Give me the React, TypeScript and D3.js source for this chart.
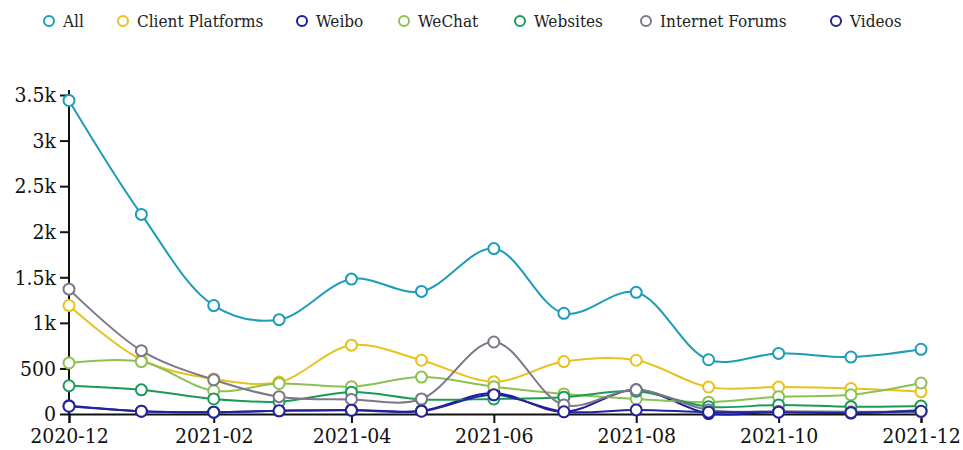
import React, { useRef, useEffect } from 'react';
import * as d3 from 'd3';

const months = [
  '2020-12', '2021-01', '2021-02', '2021-03', '2021-04', '2021-05', '2021-06',
  '2021-07', '2021-08', '2021-09', '2021-10', '2021-11', '2021-12',
];

const seriesNames = ['All', 'Client Platforms', 'Weibo', 'WeChat', 'Websites', 'Internet Forums', 'Videos'];
const seriesColors = ['#1c9db8', '#e8c21c', '#1c1ca0', '#8cc152', '#1a9a56', '#7c7788', '#24249a'];

const allValues = [3440, 2190, 1190, 1035, 1480, 1345, 1815, 1105, 1335, 595, 665, 625, 710];
const clientValues = [1190, 595, 385, 350, 755, 590, 355, 575, 590, 295, 295, 280, 245];
const weiboValues = [90, 30, 20, 35, 45, 35, 230, 25, 265, 5, 25, 10, 40];
const wechatValues = [560, 575, 255, 335, 300, 405, 300, 220, 165, 130, 190, 210, 340];
const websitesValues = [310, 265, 165, 135, 240, 160, 165, 185, 250, 80, 100, 80, 88];
const forumsValues = [1370, 695, 375, 190, 160, 165, 790, 100, 265, 45, 30, 25, 25];
const videosValues = [85, 30, 20, 35, 40, 30, 210, 25, 45, 20, 20, 15, 30];

const xTickLabels = ['2020-12', '2021-02', '2021-04', '2021-06', '2021-08', '2021-10', '2021-12'];

const seriesValues = [allValues, clientValues, weiboValues, wechatValues, websitesValues, forumsValues, videosValues];

const legendX = [49, 123, 302, 404, 520, 646, 836];

const W = 963;
const H = 450;

const App: React.FC = () => {
  const svgRef = useRef<SVGSVGElement>(null);

  useEffect(() => {
    if (!svgRef.current) return;
    const svg = d3.select(svgRef.current);
    svg.selectAll('*').remove();

    const font = "'DejaVu Serif Condensed', 'DejaVu Serif', serif";
    const parse = d3.timeParse('%Y-%m');
    const dates = months.map((m) => parse(m) as Date);

    const x = d3.scaleTime()
      .domain([dates[0], dates[dates.length - 1]])
      .range([69, 921]);
    const y = d3.scaleLinear().domain([0, 3500]).range([414, 95]);

    // legend
    const legend = svg.append('g');
    seriesNames.forEach((name, i) => {
      const g = legend.append('g').attr('transform', `translate(${legendX[i]},21)`);
      g.append('circle')
        .attr('r', 5)
        .attr('fill', '#fff')
        .attr('stroke', seriesColors[i])
        .attr('stroke-width', 2);
      g.append('text')
        .attr('x', 14)
        .attr('dy', '0.36em')
        .attr('font-family', font)
        .attr('font-size', 17)
        .attr('fill', '#222')
        .text(name);
    });

    // axes
    const yAxis = svg.append('g')
      .attr('transform', 'translate(69,0)')
      .call(d3.axisLeft(y).tickValues([0, 500, 1000, 1500, 2000, 2500, 3000, 3500])
        .tickSize(9).tickPadding(4)
        .tickFormat((d) => {
          const v = +d;
          return v >= 1000 ? `${v / 1000}k` : `${v}`;
        }));
    const xAxis = svg.append('g')
      .attr('transform', 'translate(0,414)')
      .call(d3.axisBottom(x).tickValues(xTickLabels.map((m) => parse(m) as Date))
        .tickSize(9).tickPadding(5)
        .tickFormat((d) => d3.timeFormat('%Y-%m')(d as Date)));

    [yAxis, xAxis].forEach((a) => {
      a.attr('font-family', font);
      a.select('.domain').attr('stroke', '#111').attr('stroke-width', 2);
      a.selectAll('.tick line').attr('stroke', '#111').attr('stroke-width', 2);
      a.selectAll('.tick text')
        .attr('font-size', 21)
        .attr('fill', '#111');
    });
    yAxis.select('.domain').attr('d', 'M0,90V414');

    // lines
    const line = d3.line<number>()
      .x((_, i) => x(dates[i]))
      .y((d) => y(d))
      .curve(d3.curveCatmullRom.alpha(0.5));

    seriesValues.forEach((vals, s) => {
      svg.append('path')
        .datum(vals)
        .attr('d', line)
        .attr('fill', 'none')
        .attr('stroke', seriesColors[s])
        .attr('stroke-width', 2);
    });

    seriesValues.forEach((vals, s) => {
      svg.append('g')
        .selectAll('circle')
        .data(vals)
        .enter()
        .append('circle')
        .attr('cx', (_, i) => x(dates[i]))
        .attr('cy', (d) => y(d))
        .attr('r', 5.5)
        .attr('fill', '#fff')
        .attr('stroke', seriesColors[s])
        .attr('stroke-width', 2);
    });
  }, []);

  return (
    <svg
      ref={svgRef}
      width={W}
      height={H}
      style={{ position: 'absolute', left: 0, top: 0, background: '#fff' }}
    />
  );
};

export default App;
